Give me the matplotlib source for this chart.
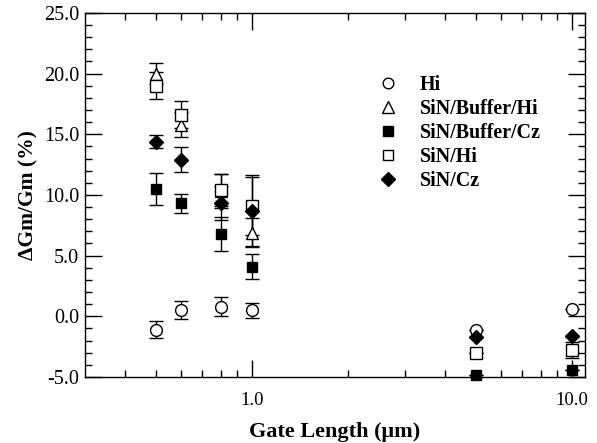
import numpy as np
import matplotlib
matplotlib.use("Agg")
import matplotlib.pyplot as plt
from matplotlib.lines import Line2D
from matplotlib.ticker import FixedLocator, FormatStrFormatter, MultipleLocator

plt.rcParams['font.family'] = ['Liberation Serif', 'DejaVu Serif']

gate = [0.5, 0.6, 0.8, 1.0, 5.0, 10.0]

hi = [-1.1, 0.5, 0.8, 0.5, -1.1, 0.6]
hi_err = [0.7, 0.75, 0.75, 0.6, 0, 0]

sbh = [20.0, 15.8, 10.3, 6.9, np.nan, np.nan]
sbh_err = [0.9, 1.0, 1.4, 1.2, 0, 0]

sbc = [10.5, 9.3, 6.8, 4.1, -4.8, -4.4]
sbc_err = [1.3, 0.75, 1.4, 1.0, 0, 0]

snh = [19.0, 16.6, 10.4, 9.1, -3.0, -2.8]
snh_err = [1.1, 1.1, 1.3, 2.4, 0, 0.65]

snc = [14.4, 12.9, 9.3, 8.7, -1.7, -1.6]
snc_err = [0.55, 1.05, 1.4, 2.9, 0, 0]

series = [
    ("Hi", hi, hi_err, 'o', 'white', 8.5),
    ("SiN/Buffer/Hi", sbh, sbh_err, '^', 'white', 9),
    ("SiN/Buffer/Cz", sbc, sbc_err, 's', 'black', 7.5),
    ("SiN/Hi", snh, snh_err, 's', 'white', 8),
    ("SiN/Cz", snc, snc_err, 'D', 'black', 7.5),
]

fig = plt.figure(figsize=(5.97, 4.43), dpi=100)
ax = fig.add_axes([0.142, 0.149, 0.838, 0.822])

handles = []
for name, y, e, m, fc, ms in series:
    ax.errorbar(gate, y, yerr=e, fmt=m, mfc=fc, mec='black', mew=1.0,
                ms=ms, color='black', ecolor='black', elinewidth=1.0,
                capsize=5, capthick=1.0, clip_on=False)
    handles.append(Line2D([], [], ls='none', marker=m, mfc=fc, mec='black',
                          mew=1.0, ms=ms * 0.9, label=name))

ax.set_xscale('log')
ax.set_xlim(0.3, 11)
ax.set_ylim(-5, 25)
ax.xaxis.set_major_locator(FixedLocator([1.0, 10.0]))
ax.xaxis.set_minor_locator(FixedLocator([0.4, 0.5, 0.6, 0.7, 0.8, 0.9,
                                         2, 3, 4, 5, 6, 7, 8, 9]))
ax.xaxis.set_major_formatter(FormatStrFormatter('%.1f'))
ax.xaxis.set_minor_formatter(plt.NullFormatter())
ax.yaxis.set_major_locator(MultipleLocator(5))
ax.yaxis.set_minor_locator(MultipleLocator(1))
ax.yaxis.set_major_formatter(FormatStrFormatter('%.1f'))

ax.tick_params(which='both', direction='in', top=True, right=True, width=1.0)
ax.tick_params(which='major', length=12)
ax.tick_params(which='minor', length=5)
ax.tick_params(axis='x', which='major', labelsize=13.5, pad=11)
ax.tick_params(axis='y', which='major', labelsize=14.5, pad=4)
for s in ax.spines.values():
    s.set_linewidth(1.0)

ax.set_xlabel('Gate Length (μm)', fontsize=16, fontweight='bold', labelpad=9)
ax.set_ylabel('ΔGm/Gm (%)', fontsize=15.5, fontweight='bold', labelpad=4)

ax.legend(handles=handles, loc='upper left', bbox_to_anchor=(0.546, 0.88),
          frameon=False, prop={'weight': 'bold', 'size': 14.4},
          handletextpad=1.0, handlelength=1.2, labelspacing=0.2)

fig.savefig('out.png', dpi=100)
